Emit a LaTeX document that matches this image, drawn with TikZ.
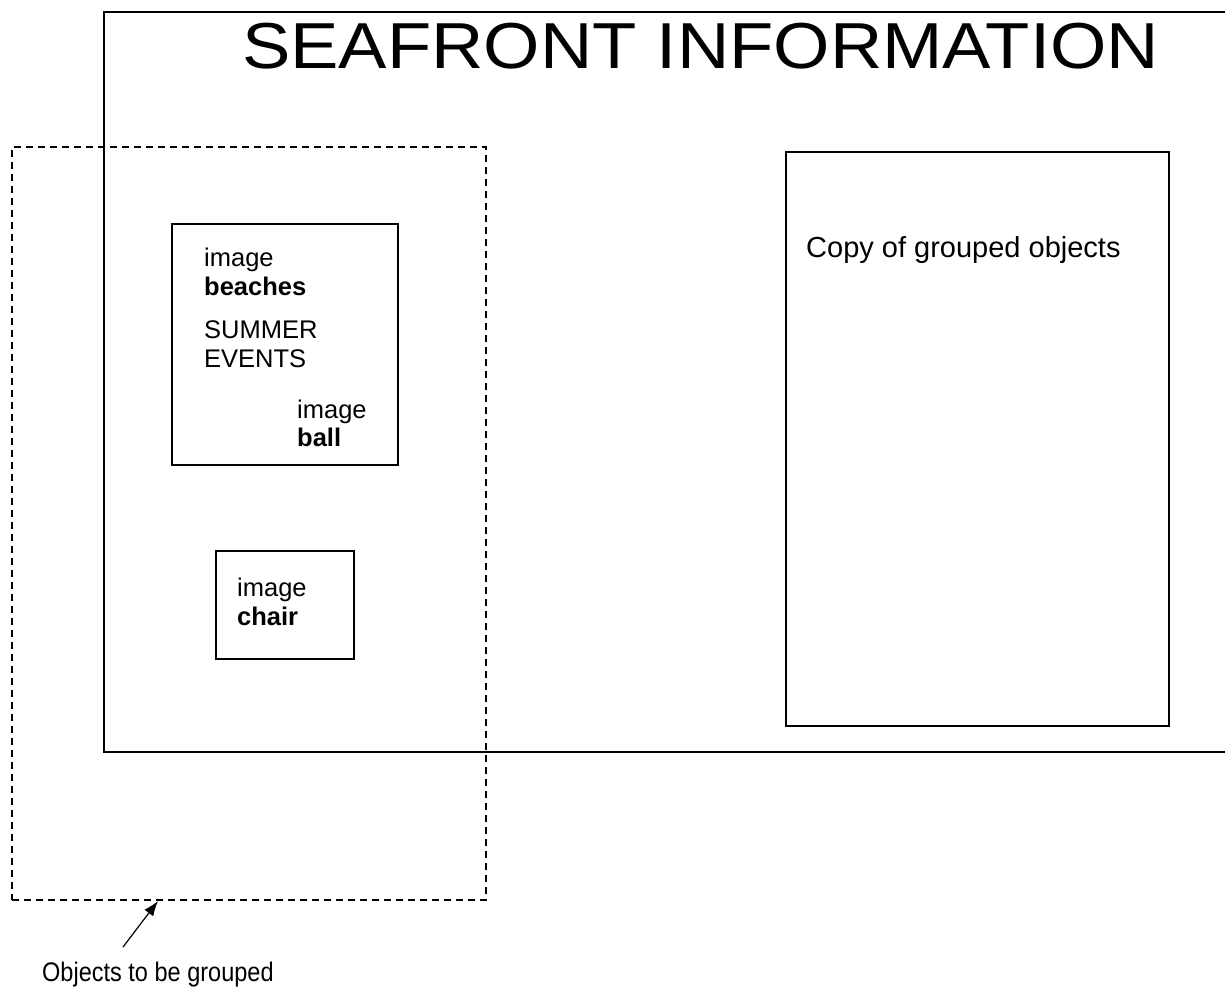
\documentclass[tikz,border=0pt]{standalone}
\usepackage{graphicx}
\usepackage{fontspec}
\setmainfont{Liberation Sans}
\usetikzlibrary{arrows.meta}
\begin{document}
\begin{tikzpicture}[x=1pt,y=-1pt,
  frame/.style={draw, line width=1.6pt},
  box/.style={draw, line width=1.3pt, rectangle, inner sep=0pt, outer sep=0pt},
  groupbox/.style={draw, line width=1.3pt, dash pattern=on 7pt off 5pt},
  txt/.style={anchor=base west, inner sep=0pt, font=\fontsize{25.5}{30}\selectfont},
  btxt/.style={txt, font=\fontsize{25.5}{30}\selectfont\bfseries}]
\useasboundingbox (0,0) rectangle (1225,990);

% the information panel (runs past the right edge)
\draw[frame] (1240,12) -- (104,12) -- (104,752) -- (1240,752);
\node[anchor=base west, inner sep=0pt, font=\fontsize{65}{76}\selectfont] (title) at (242,68) {\scalebox{1.115}[1]{SEAFRONT INFORMATION}};

% grouped objects
\node[box, minimum width=226pt, minimum height=241pt, anchor=north west] (beach) at (172,224) {};
\node[txt] (t1) at (204,266) {image};
\node[btxt] (t2) at (204,295) {beaches};
\node[txt] (t3) at (204,338) {SUMMER};
\node[txt] (t4) at (204,367) {EVENTS};
\node[txt] (t5) at (297,418) {image};
\node[btxt] (t6) at (297,446) {ball};

\node[box, minimum width=138pt, minimum height=108pt, anchor=north west] (chair) at (216,551) {};
\node[txt] (t7) at (237,596) {image};
\node[btxt] (t8) at (237,625) {chair};

% copy panel
\node[box, minimum width=383pt, minimum height=574pt, anchor=north west] (copy) at (786,152) {};
\node[txt, font=\fontsize{29}{34}\selectfont] (t9) at (806,257) {Copy of grouped objects};

% dashed selection around the objects
\node[groupbox, rectangle, inner sep=0pt, outer sep=0pt, minimum width=474pt, minimum height=753pt, anchor=north west] (sel) at (12,147) {};

\node[anchor=base west, inner sep=0pt, font=\fontsize{24}{28}\selectfont] (lbl) at (42,981) {\scalebox{0.98}[1.12]{Objects to be grouped}};
\coordinate (tail) at (123,947);
\coordinate (tip) at (158,901);
\draw[line width=1.2pt, -{Latex[length=15pt,width=11pt]}] (tail) -- (tip);
\end{tikzpicture}
\end{document}
